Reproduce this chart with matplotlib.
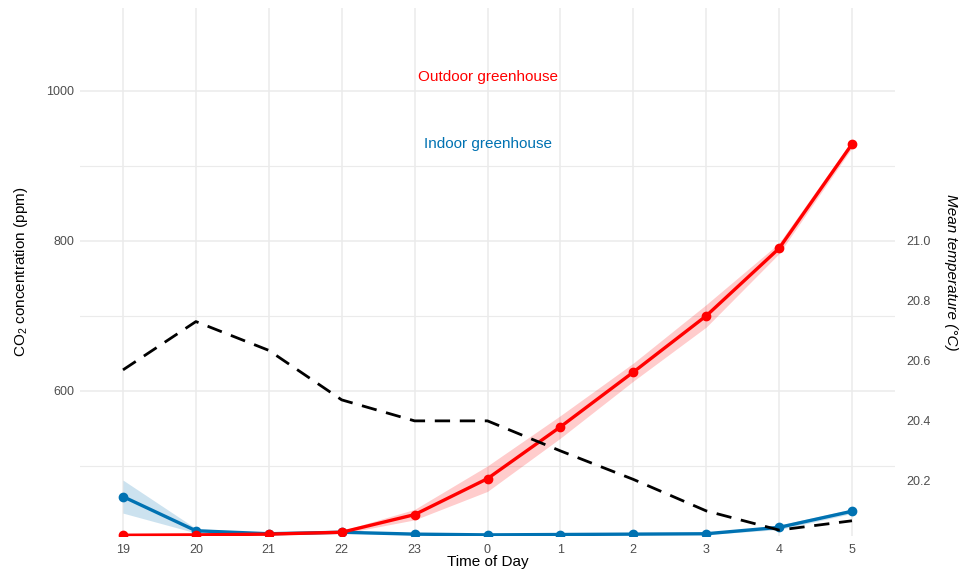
import matplotlib
matplotlib.use("Agg")
import matplotlib.pyplot as plt
import numpy as np

plt.rcParams["font.family"] = ["Liberation Sans", "DejaVu Sans"]

# Hour of day (overnight run)
hours = ["19", "20", "21", "22", "23", "0", "1", "2", "3", "4", "5"]

# CO2 concentration (ppm), mean and half-width of the ribbon
outdoor_co2 = [407.5, 408, 409, 411.5, 435, 483, 552, 625, 700, 790, 929]
outdoor_err = [1, 1, 1, 2, 7, 17, 15, 12, 15, 7, 5]
indoor_co2 = [459, 413.5, 409.5, 411.5, 409, 408, 408.5, 409, 409.5, 418, 439.5]
indoor_err = [22, 3, 1, 1, 1, 1, 1, 1, 1, 3, 3]

# Mean air temperature (°C)
mean_temp = [20.57, 20.731, 20.635, 20.47, 20.40, 20.40, 20.30, 20.205, 20.10, 20.036, 20.067]

temp_ticks = [20.2, 20.4, 20.6, 20.8, 21.0]

RED = "#FF0000"
BLUE = "#0072B2"
GRID = "#EBEBEB"
TICK = "#4D4D4D"

x = np.arange(len(hours))
co2_lim = (406.5, 1110.5)


def temp_to_co2(t):
    return 800 + 400 * (np.asarray(t) - 21.0)


def co2_to_temp(c):
    return 21.0 + (np.asarray(c) - 800) / 400


fig = plt.figure(figsize=(9.6, 5.71), dpi=100)
ax = fig.add_axes([80 / 960, 1 - 536 / 571, 815 / 960, 528 / 571])

# grid
ax.set_yticks([600, 800, 1000])
ax.set_yticks([500, 700, 900], minor=True)
ax.set_xticks(x)
ax.set_xticklabels(hours)
ax.grid(True, which="major", color=GRID, lw=1.1)
ax.grid(True, which="minor", axis="y", color=GRID, lw=0.8)
ax.set_axisbelow(True)
for s in ax.spines.values():
    s.set_visible(False)
ax.tick_params(which="both", length=0, labelsize=9, colors=TICK, pad=4)
ax.tick_params(axis="x", pad=6)

oc = np.array(outdoor_co2)
oe = np.array(outdoor_err)
ic = np.array(indoor_co2)
ie = np.array(indoor_err)

ax.fill_between(x, ic - ie, ic + ie, color=BLUE, alpha=0.2, lw=0)
ax.fill_between(x, oc - oe, oc + oe, color=RED, alpha=0.2, lw=0)
ax.plot(x, ic, color=BLUE, lw=2.4, marker="o", ms=6, solid_capstyle="butt")
ax.plot(x, oc, color=RED, lw=2.4, marker="o", ms=6, solid_capstyle="butt")

ax.text(5, 1019, "Outdoor greenhouse", color=RED, ha="center", va="center", fontsize=11)
ax.text(5, 929, "Indoor greenhouse", color=BLUE, ha="center", va="center", fontsize=11)

ax.set_xlim(-0.59, 10.59)
ax.set_ylim(*co2_lim)
ax.set_xlabel("Time of Day", fontsize=11, labelpad=-1)
ax.set_ylabel(r"CO$_{\mathregular{2}}$ concentration (ppm)", fontsize=11, labelpad=12)

# temperature on a second y scale tied to the CO2 scale
ax2 = ax.twinx()
ax2.set_ylim(co2_to_temp(co2_lim[0]), co2_to_temp(co2_lim[1]))
ax2.plot(x, mean_temp, color="black", lw=2.0, ls=(0, (5.5, 3.5)))
ax2.set_yticks(temp_ticks)
ax2.set_yticklabels([f"{t:.1f}" for t in temp_ticks])
ax2.tick_params(length=0, labelsize=9, colors=TICK, pad=8)
for s in ax2.spines.values():
    s.set_visible(False)
ax2.set_ylabel("Mean temperature (°C)", fontsize=11, style="italic", rotation=270, labelpad=20)

fig.savefig("out.png", dpi=100, facecolor="white")
